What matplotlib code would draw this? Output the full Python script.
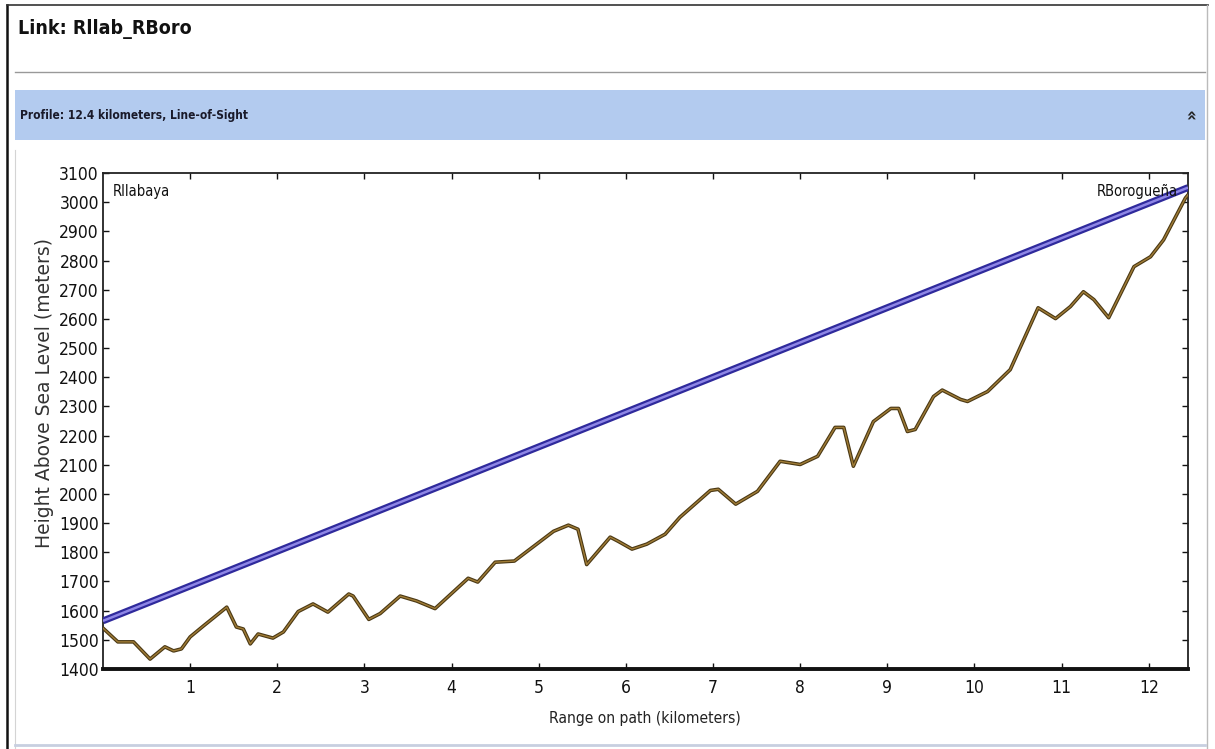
import matplotlib
matplotlib.use('Agg')
import matplotlib.pyplot as plt
from matplotlib.patches import Rectangle
from matplotlib.lines import Line2D

# terrain profile (km, metres)
terrain_km = [0.00, 0.17, 0.35, 0.54, 0.71, 0.81, 0.90, 1.00, 1.15, 1.42,
              1.53, 1.61, 1.69, 1.78, 1.95, 2.07, 2.24, 2.41, 2.58, 2.82,
              2.87, 3.05, 3.18, 3.41, 3.60, 3.81, 4.19, 4.30, 4.50, 4.72,
              4.87, 5.17, 5.34, 5.45, 5.55, 5.82, 5.91, 6.07, 6.24, 6.45,
              6.62, 6.97, 7.06, 7.26, 7.51, 7.77, 8.00, 8.20, 8.40, 8.50,
              8.61, 8.84, 9.04, 9.13, 9.23, 9.32, 9.53, 9.63, 9.84, 9.92,
              10.15, 10.41, 10.73, 10.93, 11.10, 11.25, 11.37, 11.54, 11.83, 12.02,
              12.17, 12.42, 12.45]
terrain_m = [1540, 1493, 1493, 1434, 1476, 1462, 1469, 1510, 1547, 1612,
             1544, 1537, 1486, 1520, 1506, 1527, 1597, 1623, 1595, 1657,
             1650, 1570, 1590, 1650, 1633, 1607, 1711, 1698, 1766, 1770,
             1804, 1872, 1893, 1879, 1758, 1852, 1838, 1811, 1828, 1862,
             1920, 2012, 2016, 1965, 2009, 2112, 2101, 2129, 2228, 2228,
             2095, 2248, 2293, 2293, 2214, 2221, 2334, 2356, 2324, 2317,
             2351, 2426, 2638, 2601, 2642, 2693, 2666, 2604, 2779, 2813,
             2871, 3014, 3025]

# line of sight between the two sites
los_km = [0.0, 12.45]
los_m = [1565, 3050]

site_names = ['Rllabaya', 'RBorogueña']
x_ticks = list(range(1, 13))
y_ticks = list(range(1400, 3101, 100))

W, H = 1215, 749
narrow = dict(family='DejaVu Sans', fontstretch='condensed')


def fx(px):
    return px / W


def fy(py):
    return 1 - py / H


fig = plt.figure(figsize=(W / 100, H / 100), dpi=100)
fig.patch.set_facecolor('white')

# page frame and header
fig.add_artist(Line2D([fx(7), fx(7)], [fy(5), fy(749)], color='#111111', lw=1.8))
fig.add_artist(Line2D([fx(15), fx(15)], [fy(150), fy(749)], color='#d4d4d4', lw=0.8))
fig.add_artist(Line2D([fx(7), fx(1208)], [fy(5), fy(5)], color='#333333', lw=1.2))
fig.add_artist(Line2D([fx(1207), fx(1207)], [fy(5), fy(749)], color='#bbbbbb', lw=1.0))
fig.add_artist(Line2D([fx(15), fx(1205)], [fy(72), fy(72)], color='#999999', lw=1.0))
fig.add_artist(Line2D([fx(15), fx(1205)], [fy(745), fy(745)], color='#c8cfe0', lw=2.0))
fig.add_artist(Rectangle((fx(15), fy(140)), fx(1190), 50 / H, transform=fig.transFigure,
                         facecolor='#b3cbef', edgecolor='none'))

fig.text(fx(18), fy(29), 'Link: Rllab_RBoro', fontweight='bold',
         fontsize=14, va='center', ha='left', color='#111111', **narrow)
fig.text(fx(20), fy(115), 'Profile: 12.4 kilometers, Line-of-Sight',
         fontweight='bold', fontsize=8.6, va='center', ha='left', color='#1a1a2a', **narrow)
fig.text(fx(1192), fy(114), '»', fontsize=12, rotation=90, fontweight='bold',
         va='center', ha='center', color='#222222')

ax = fig.add_axes([fx(103), fy(669), (1188 - 103) / W, (669 - 173) / H])
ax.set_facecolor('white')

ax.plot(los_km, los_m, color='#2f2a9c', lw=5.0, solid_capstyle='butt', zorder=3)
ax.plot(los_km, los_m, color='#8e86e6', lw=1.8, solid_capstyle='butt', zorder=4)
ax.plot(terrain_km, terrain_m, color='#4a3814', lw=2.6, zorder=3)
ax.plot(terrain_km, terrain_m, color='#a07c36', lw=1.0, zorder=4)

ax.text(0.115, 3035, site_names[0], fontsize=10.5, ha='left', va='center',
        color='#111111', zorder=5, **narrow)
ax.text(12.33, 3035, site_names[1], fontsize=10.5, ha='right', va='center',
        color='#111111', zorder=5, **narrow)

ax.set_xlim(0, 12.45)
ax.set_ylim(1400, 3100)
ax.set_xticks(x_ticks)
ax.set_yticks(y_ticks)
ax.tick_params(direction='in', length=4, width=1, top=True, right=True,
               labelsize=12.5, colors='#111111')
ax.tick_params(axis='x', pad=7)
ax.tick_params(axis='y', pad=3)
for lab in ax.get_xticklabels() + ax.get_yticklabels():
    lab.set_family('DejaVu Sans')
    lab.set_fontstretch('condensed')

for side in ['left', 'right', 'top']:
    ax.spines[side].set_linewidth(1.3)
    ax.spines[side].set_color('#222222')
ax.spines['bottom'].set_linewidth(2.8)
ax.spines['bottom'].set_color('#111111')

fig.text(fx(645), fy(718), 'Range on path (kilometers)', fontsize=11.2,
         ha='center', va='center', color='#222222', **narrow)
fig.text(fx(45), fy(393), 'Height Above Sea Level (meters)', fontsize=13.5,
         rotation=90, ha='center', va='center', color='#333333')

fig.savefig('out.png', dpi=100)
